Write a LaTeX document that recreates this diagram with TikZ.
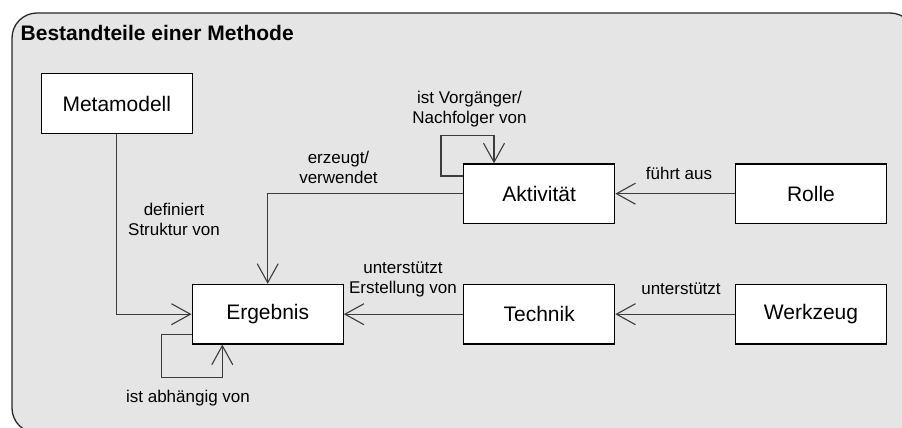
\documentclass[tikz,border=0pt]{standalone}
\usepackage{fontspec}
\setmainfont{Liberation Sans}
\usetikzlibrary{arrows.meta}

\definecolor{panelfill}{RGB}{229,229,229}
\definecolor{panelline}{RGB}{40,40,40}
\definecolor{linkline}{RGB}{60,60,60}

\tikzset{
  entity/.style={draw=black, fill=white, line width=1.3pt,
    minimum width=151pt, minimum height=59.5pt, inner sep=0pt,
    font=\fontsize{21}{25}\selectfont},
  link/.style={draw=linkline, line width=1.1pt,
    -{Straight Barb[length=19pt,width=21pt,line width=1.1pt]}},
  linklabel/.style={align=center, inner sep=0pt, anchor=base,
    font=\fontsize{17}{20}\selectfont},
}

\begin{document}
\begin{tikzpicture}[x=1pt, y=-1pt]
  \useasboundingbox (0,0) rectangle (902,428);
  \clip (0,0) rectangle (902,428);

  % surrounding panel
  \draw[fill=panelfill, draw=panelline, line width=1.3pt, rounded corners=25pt]
    (12,13) rectangle (915,433);
  \node[anchor=base west, inner sep=0pt, font=\bfseries\fontsize{21}{25}\selectfont]
    (title) at (20.5,41) {Bestandteile einer Methode};

  % entities
  \node[entity] (meta)  at (116.8,103.6) {Metamodell};
  \node[entity] (erg)   at (267.7,314.2) {Ergebnis};
  \node[entity] (akt)   at (539.2,193.7) {Aktivität};
  \node[entity] (rolle) at (811.0,193.7) {Rolle};
  \node[entity] (tech)  at (539.2,314.2) {Technik};
  \node[entity] (werk)  at (811.0,314.2) {Werkzeug};

  % loop corners
  \coordinate (aktloop) at (441,135.7);
  \coordinate (ergloop) at (161.7,377.7);

  % relations
  \draw[link] (meta.south) |- (erg.west);
  \draw[link] (akt.west) -| (erg.north);
  \draw[link] (rolle.west) -- (akt.east);
  \draw[link] (tech.west) -- (erg.east);
  \draw[link] (werk.west) -- (tech.east);
  \draw[link] ([yshift=17.7pt]akt.west) -| (aktloop) -| ([xshift=-45.2pt]akt.north);
  \draw[link] ([yshift=-19.9pt]erg.west) -| (ergloop) -| ([xshift=-45.4pt]erg.south);

  % relation labels
  \node[linklabel] (ldef)  at (174,235)   {definiert\\Struktur von};
  \node[linklabel] (lerz)  at (338.5,183) {erzeugt/\\verwendet};
  \node[linklabel] (lvor)  at (469.5,123) {ist Vorgänger/\\Nachfolger von};
  \node[linklabel] (lfue)  at (679,179)   {führt aus};
  \node[linklabel] (lust)  at (403,293)   {unterstützt\\Erstellung von};
  \node[linklabel] (luwz)  at (681,294)   {unterstützt};
  \node[linklabel] (labh)  at (188,402)   {ist abhängig von};
\end{tikzpicture}
\end{document}
